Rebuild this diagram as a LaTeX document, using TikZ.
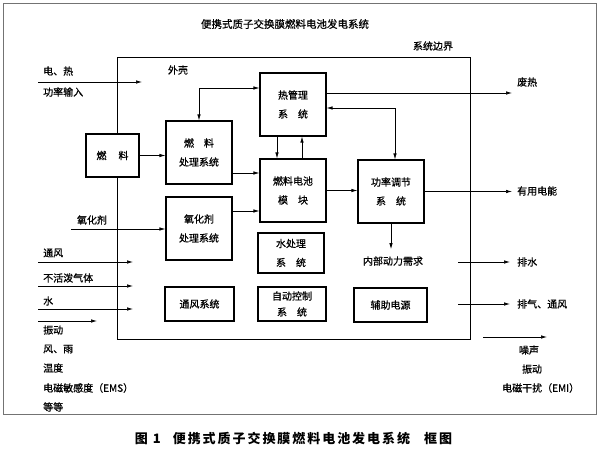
\documentclass[tikz,border=0pt]{standalone}
\usepackage{fontspec}
\setmainfont{Noto Sans CJK SC}
\newfontfamily\cjkdark{Noto Sans CJK SC}[FakeBold=0.8]
\usetikzlibrary{arrows.meta}
\begin{document}
\begin{tikzpicture}[x=1pt,y=-1pt,
  box/.style={draw,line width=1.1pt,fill=white,inner sep=0pt,align=center,font=\cjkdark\fontsize{10}{19}\selectfont},
  lbl/.style={inner sep=1pt,font=\cjkdark\fontsize{10}{12}\selectfont},
  arr/.style={-{Latex[length=6pt,width=3.5pt]},line width=0.7pt},
  darr/.style={{Latex[length=6pt,width=3.5pt]}-{Latex[length=6pt,width=3.5pt]},line width=0.7pt}]
\useasboundingbox (0,0) rectangle (598,453);
\node[draw=black!55,line width=0.8pt,minimum width=593pt,minimum height=411pt,inner sep=0pt] (frame) at (299.5,208.5) {};
% system boundary
\node[draw,line width=1pt,minimum width=353pt,minimum height=282pt,inner sep=0pt] (bound) at (293.5,198) {};
% title and captions
\node[lbl,font=\cjkdark\fontsize{10.5}{12}\selectfont] (title) at (285,24) {便携式质子交换膜燃料电池发电系统};
\node[lbl] (blabel) at (433,46) {系统边界};
\node[lbl] (shell) at (178,70) {外壳};
\node[inner sep=0pt,font=\fontsize{13}{15}\selectfont\bfseries\addfontfeature{LetterSpace=15}] (caption) at (293.5,439) {图\hspace{5pt}1\hspace{12pt}便携式质子交换膜燃料电池发电系统\hspace{14pt}框图};
% boxes
\node[box,minimum width=53pt,minimum height=43pt] (fuel) at (112.5,155.5) {燃\hspace{12pt}料};
\node[box,minimum width=66pt,minimum height=63pt] (fproc) at (199,152.5) {燃\quad 料\\处理系统};
\node[box,minimum width=66pt,minimum height=63pt] (therm) at (293,104.5) {热管理\\系\quad 统};
\node[box,minimum width=66pt,minimum height=63pt] (stack) at (293,190.5) {燃料电池\\模\quad 块};
\node[box,minimum width=66pt,minimum height=63pt] (power) at (391,191.5) {功率调节\\系\quad 统};
\node[box,minimum width=66pt,minimum height=63pt] (oxproc) at (199,228.5) {氧化剂\\处理系统};
\node[box,minimum width=66pt,minimum height=40pt] (water) at (291,253) {水处理\\系\quad 统};
\node[box,minimum width=69pt,minimum height=34pt] (vent) at (199.5,304) {通风系统};
\node[box,minimum width=68pt,minimum height=34pt,font=\cjkdark\fontsize{10}{16}\selectfont] (auto) at (292,304) {自动控制\\系\quad 统};
\node[box,minimum width=73pt,minimum height=34pt] (aux) at (390.5,305) {辅助电源};
\node[lbl] (demand) at (393,261) {内部动力需求};
% internal connectors
\draw[arr] (fuel.east) -- (fuel.east -| fproc.west);
\draw[arr] ([yshift=-20.5pt]fproc.east) -- ([yshift=-20.5pt]fproc.east -| stack.west);
\draw[arr] ([yshift=17.5pt]oxproc.east) -- ([yshift=17.5pt]oxproc.east -| stack.west);
\draw[darr] (fproc.north) |- ([yshift=16.5pt]therm.west);
\draw[arr] ([xshift=-16pt]therm.south) -- ([xshift=-16pt]stack.north);
\draw[arr] ([xshift=9pt]stack.north) -- ([xshift=9pt]therm.south);
\draw[darr] ([xshift=4pt]power.north) |- ([yshift=-3.5pt]therm.east);
\draw[arr] (stack.east) -- (stack.east -| power.west);
\draw[arr,shorten >=6pt] (power.south) -- (power.south |- demand.north);
% left inputs
\coordinate (i1a) at (38,82);  \coordinate (i1b) at (142,82);
\coordinate (oxa) at (71,229);
\coordinate (i2a) at (38,262); \coordinate (i2b) at (133,262);
\coordinate (i3a) at (38,286); \coordinate (i3b) at (133,286);
\coordinate (i4a) at (38,309); \coordinate (i4b) at (133,309);
\coordinate (i5a) at (38,321); \coordinate (i5b) at (97,321);
\draw[arr] (i1a) -- (i1b);
\draw[arr] (oxa) -- (oxa -| oxproc.west);
\draw[arr] (i2a) -- (i2b);
\draw[arr] (i3a) -- (i3b);
\draw[arr] (i4a) -- (i4b);
\draw[arr] (i5a) -- (i5b);
\node[lbl,anchor=west] (l1) at (42,71) {电、热};
\node[lbl,anchor=west] (l2) at (42,92) {功率输入};
\node[lbl] (l3) at (92,220) {氧化剂};
\node[lbl,anchor=west] (l4) at (42,253) {通风};
\node[lbl,anchor=west] (l5) at (42,278) {不活泼气体};
\node[lbl,anchor=west] (l6) at (42,301) {水};
\node[lbl,anchor=west] (l7) at (42,330) {振动};
\node[lbl,anchor=west] (l8) at (42,349) {风、雨};
\node[lbl,anchor=west] (l9) at (42,368) {温度};
\node[lbl,anchor=west] (l10) at (42,388) {电磁敏感度（EMS）};
\node[lbl,anchor=west] (l11) at (42,407) {等等};
% right outputs
\coordinate (o1b) at (512,93);
\coordinate (o2b) at (512,190.5);
\coordinate (o3a) at (458,262); \coordinate (o3b) at (510,262);
\coordinate (o4a) at (458,304); \coordinate (o4b) at (510,304);
\coordinate (o5a) at (483,337); \coordinate (o5b) at (547,337);
\draw[arr] ([yshift=11.5pt]therm.east) -- ([yshift=11.5pt]therm.east -| o1b);
\draw[arr] (power.east) -- (power.east -| o2b);
\draw[arr] (o3a) -- (o3b);
\draw[arr] (o4a) -- (o4b);
\draw[arr] (o5a) -- (o5b);
\node[lbl,anchor=west] (r1) at (516,82) {废热};
\node[lbl,anchor=west] (r2) at (516,191) {有用电能};
\node[lbl,anchor=west] (r3) at (516,262) {排水};
\node[lbl,anchor=west] (r4) at (516,304) {排气、通风};
\node[lbl] (r5) at (529,350) {噪声};
\node[lbl] (r6) at (532,369) {振动};
\node[lbl,anchor=west] (r7) at (501,388) {电磁干扰（EMI）};
\end{tikzpicture}
\end{document}
